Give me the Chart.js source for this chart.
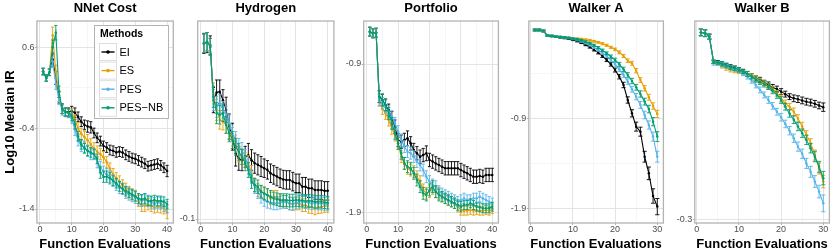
<!DOCTYPE html>
<html><head><meta charset="utf-8">
<script src="https://cdn.jsdelivr.net/npm/chart.js@4.4.1/dist/chart.umd.min.js"></script>
<style>
html,body{margin:0;padding:0;background:#fff;}
body{width:831px;height:250px;overflow:hidden;position:relative;}
canvas{position:absolute;top:0;}
</style></head><body>
<canvas id="c1" width="176" height="250" style="left:0px"></canvas>
<canvas id="c2" width="160" height="250" style="left:176px"></canvas>
<canvas id="c3" width="165" height="250" style="left:336px"></canvas>
<canvas id="c4" width="165" height="250" style="left:501px"></canvas>
<canvas id="c5" width="165" height="250" style="left:666px"></canvas>
<script>
// ---------- data ----------
const methods = ['EI', 'ES', 'PES', 'PES\u2212NB'];
const evals40 = [1,2,3,4,5,6,7,8,9,10,11,12,13,14,15,16,17,18,19,20,21,22,23,24,25,26,27,28,29,30,31,32,33,34,35,36,37,38,39,40];
const evals30 = [1,2,3,4,5,6,7,8,9,10,11,12,13,14,15,16,17,18,19,20,21,22,23,24,25,26,27,28,29,30];

// NNet Cost
const nnetEI   = [0.30,0.22,0.29,0.45,0.22,-0.02,-0.16,-0.20,-0.20,-0.19,-0.21,-0.26,-0.32,-0.36,-0.38,-0.39,-0.46,-0.52,-0.56,-0.62,-0.64,-0.67,-0.68,-0.70,-0.69,-0.70,-0.73,-0.75,-0.77,-0.78,-0.80,-0.82,-0.84,-0.87,-0.86,-0.85,-0.84,-0.86,-0.89,-0.93];
const nnetES   = [0.30,0.22,0.29,0.75,0.30,0.00,-0.16,-0.20,-0.21,-0.22,-0.30,-0.40,-0.47,-0.51,-0.55,-0.60,-0.65,-0.69,-0.72,-0.76,-0.82,-0.90,-0.97,-1.02,-1.06,-1.11,-1.15,-1.19,-1.22,-1.24,-1.30,-1.36,-1.36,-1.34,-1.36,-1.38,-1.37,-1.38,-1.39,-1.44];
const nnetPES  = [0.30,0.22,0.29,0.42,0.15,-0.05,-0.18,-0.21,-0.22,-0.28,-0.42,-0.55,-0.62,-0.63,-0.68,-0.72,-0.72,-0.82,-0.88,-0.94,-0.97,-1.00,-1.05,-1.10,-1.14,-1.15,-1.20,-1.22,-1.24,-1.26,-1.28,-1.30,-1.28,-1.30,-1.32,-1.33,-1.32,-1.33,-1.36,-1.38];
const nnetPESNB= [0.30,0.22,0.29,0.60,0.78,0.05,-0.16,-0.20,-0.21,-0.25,-0.35,-0.50,-0.60,-0.65,-0.68,-0.70,-0.72,-0.78,-0.95,-1.00,-1.00,-1.02,-1.05,-1.08,-1.12,-1.15,-1.18,-1.20,-1.22,-1.24,-1.27,-1.28,-1.27,-1.30,-1.30,-1.29,-1.30,-1.30,-1.31,-1.34];
const nnetEIerr   = [0.04,0.04,0.04,0.08,0.08,0.07,0.06,0.05,0.05,0.06,0.06,0.06,0.06,0.06,0.07,0.07,0.06,0.06,0.06,0.06,0.06,0.06,0.06,0.06,0.06,0.06,0.06,0.06,0.06,0.06,0.06,0.06,0.06,0.06,0.06,0.06,0.06,0.06,0.06,0.07];
const nnetESerr   = [0.04,0.04,0.04,0.10,0.08,0.07,0.06,0.05,0.05,0.06,0.07,0.07,0.07,0.07,0.07,0.07,0.07,0.07,0.07,0.07,0.07,0.07,0.07,0.07,0.07,0.07,0.07,0.07,0.07,0.07,0.07,0.07,0.07,0.07,0.07,0.07,0.07,0.07,0.07,0.08];
const nnetPESerr  = [0.04,0.04,0.04,0.07,0.07,0.06,0.06,0.05,0.05,0.06,0.07,0.07,0.07,0.07,0.07,0.07,0.07,0.07,0.07,0.07,0.07,0.07,0.07,0.07,0.07,0.07,0.07,0.07,0.07,0.07,0.07,0.07,0.07,0.07,0.07,0.07,0.07,0.07,0.07,0.07];
const nnetPESNBerr= [0.04,0.04,0.04,0.09,0.09,0.07,0.06,0.05,0.05,0.06,0.06,0.06,0.06,0.06,0.06,0.06,0.06,0.06,0.07,0.07,0.07,0.07,0.06,0.06,0.06,0.06,0.06,0.06,0.06,0.06,0.06,0.06,0.06,0.06,0.06,0.06,0.06,0.06,0.06,0.06];

// Hydrogen
const h2EI   = [0.318,0.320,0.314,0.183,0.201,0.203,0.183,0.160,0.120,0.096,0.056,0.044,0.040,0.048,0.052,0.040,0.033,0.029,0.025,0.021,0.017,0.009,0.005,0.001,-0.003,-0.006,-0.007,-0.007,-0.011,-0.015,-0.015,-0.023,-0.023,-0.027,-0.027,-0.031,-0.031,-0.031,-0.033,-0.033];
const h2ES   = [0.318,0.322,0.310,0.199,0.160,0.136,0.132,0.124,0.108,0.096,0.080,0.056,0.048,0.040,0.033,0.009,-0.019,-0.031,-0.035,-0.039,-0.043,-0.051,-0.047,-0.047,-0.055,-0.059,-0.059,-0.063,-0.064,-0.063,-0.063,-0.067,-0.067,-0.071,-0.072,-0.075,-0.072,-0.071,-0.069,-0.069];
const h2PES  = [0.318,0.322,0.310,0.183,0.167,0.175,0.160,0.148,0.128,0.104,0.088,0.072,0.064,0.048,0.025,0.001,-0.023,-0.035,-0.047,-0.055,-0.059,-0.061,-0.063,-0.063,-0.061,-0.059,-0.060,-0.063,-0.064,-0.061,-0.059,-0.059,-0.060,-0.061,-0.063,-0.061,-0.063,-0.063,-0.064,-0.064];
const h2PESNB= [0.318,0.322,0.310,0.191,0.152,0.148,0.152,0.124,0.104,0.088,0.072,0.060,0.048,0.033,0.017,-0.011,-0.019,-0.023,-0.035,-0.039,-0.043,-0.047,-0.051,-0.053,-0.055,-0.055,-0.055,-0.056,-0.056,-0.055,-0.055,-0.056,-0.057,-0.057,-0.057,-0.059,-0.059,-0.059,-0.060,-0.061];
const h2EIerr   = [0.024,0.024,0.022,0.030,0.030,0.028,0.025,0.030,0.030,0.032,0.030,0.028,0.025,0.025,0.028,0.025,0.024,0.024,0.024,0.022,0.022,0.022,0.022,0.022,0.022,0.022,0.022,0.022,0.022,0.022,0.022,0.022,0.022,0.022,0.022,0.022,0.022,0.022,0.022,0.022];
const h2ESerr   = [0.022,0.022,0.020,0.025,0.025,0.022,0.020,0.020,0.020,0.022,0.020,0.020,0.018,0.018,0.018,0.018,0.016,0.016,0.015,0.015,0.015,0.015,0.015,0.015,0.015,0.015,0.015,0.015,0.015,0.015,0.015,0.015,0.015,0.015,0.015,0.015,0.015,0.015,0.015,0.015];
const h2PESerr  = [0.022,0.022,0.020,0.025,0.025,0.022,0.020,0.020,0.020,0.020,0.020,0.020,0.018,0.018,0.018,0.016,0.016,0.016,0.015,0.015,0.015,0.015,0.015,0.015,0.015,0.015,0.015,0.015,0.015,0.015,0.015,0.015,0.015,0.015,0.015,0.015,0.015,0.015,0.015,0.015];
const h2PESNBerr= [0.022,0.022,0.020,0.025,0.025,0.022,0.020,0.020,0.020,0.020,0.020,0.020,0.018,0.018,0.018,0.016,0.016,0.016,0.015,0.015,0.015,0.015,0.015,0.015,0.015,0.015,0.015,0.015,0.015,0.015,0.015,0.015,0.015,0.015,0.015,0.015,0.015,0.015,0.015,0.015];

// Portfolio
const pfEI   = [-0.682,-0.693,-0.689,-1.120,-1.143,-1.176,-1.210,-1.266,-1.322,-1.412,-1.424,-1.412,-1.401,-1.435,-1.480,-1.502,-1.525,-1.514,-1.502,-1.547,-1.558,-1.570,-1.581,-1.592,-1.603,-1.603,-1.603,-1.603,-1.603,-1.615,-1.626,-1.637,-1.648,-1.660,-1.660,-1.655,-1.660,-1.648,-1.648,-1.648];
const pfES   = [-0.682,-0.693,-0.689,-1.143,-1.199,-1.233,-1.278,-1.334,-1.379,-1.435,-1.525,-1.570,-1.603,-1.615,-1.626,-1.660,-1.693,-1.749,-1.772,-1.761,-1.738,-1.761,-1.772,-1.794,-1.806,-1.817,-1.828,-1.839,-1.862,-1.884,-1.889,-1.889,-1.884,-1.889,-1.884,-1.889,-1.889,-1.884,-1.889,-1.880];
const pfPES  = [-0.682,-0.693,-0.689,-1.143,-1.165,-1.188,-1.221,-1.255,-1.300,-1.356,-1.412,-1.457,-1.491,-1.502,-1.525,-1.558,-1.581,-1.615,-1.660,-1.693,-1.716,-1.727,-1.761,-1.772,-1.783,-1.794,-1.806,-1.817,-1.828,-1.817,-1.806,-1.817,-1.817,-1.806,-1.806,-1.794,-1.806,-1.817,-1.828,-1.839];
const pfPESNB= [-0.682,-0.693,-0.689,-1.120,-1.143,-1.176,-1.233,-1.300,-1.367,-1.435,-1.502,-1.570,-1.592,-1.603,-1.637,-1.682,-1.727,-1.772,-1.783,-1.749,-1.727,-1.761,-1.783,-1.794,-1.806,-1.817,-1.828,-1.839,-1.851,-1.862,-1.851,-1.851,-1.839,-1.851,-1.862,-1.866,-1.873,-1.873,-1.873,-1.862];
const pfEIerr   = [0.030,0.030,0.030,0.040,0.040,0.040,0.040,0.045,0.045,0.045,0.045,0.045,0.050,0.045,0.045,0.045,0.045,0.045,0.050,0.045,0.045,0.045,0.045,0.045,0.045,0.045,0.045,0.045,0.045,0.045,0.045,0.045,0.045,0.045,0.045,0.045,0.045,0.045,0.045,0.045];
const pfESerr   = [0.030,0.030,0.030,0.040,0.040,0.040,0.040,0.040,0.040,0.040,0.040,0.040,0.040,0.040,0.040,0.040,0.040,0.040,0.040,0.040,0.040,0.040,0.040,0.035,0.035,0.035,0.035,0.035,0.035,0.035,0.030,0.030,0.030,0.030,0.030,0.030,0.030,0.030,0.030,0.030];
const pfPESerr  = [0.030,0.030,0.030,0.040,0.040,0.040,0.040,0.040,0.040,0.040,0.040,0.040,0.040,0.040,0.040,0.040,0.040,0.040,0.040,0.040,0.040,0.040,0.040,0.035,0.035,0.035,0.035,0.035,0.035,0.035,0.035,0.035,0.035,0.035,0.035,0.035,0.035,0.035,0.035,0.035];
const pfPESNBerr= [0.030,0.030,0.030,0.040,0.040,0.040,0.040,0.040,0.040,0.040,0.040,0.040,0.040,0.040,0.040,0.040,0.040,0.040,0.040,0.040,0.040,0.040,0.040,0.035,0.035,0.035,0.035,0.035,0.035,0.035,0.030,0.030,0.030,0.030,0.030,0.030,0.030,0.030,0.030,0.030];

// Walker A
const waEI   = [0.089,0.089,0.078,0.026,0.022,0.015,0.007,0.000,-0.007,-0.019,-0.033,-0.052,-0.074,-0.100,-0.130,-0.163,-0.200,-0.244,-0.293,-0.356,-0.430,-0.522,-0.689,-0.837,-0.985,-1.041,-1.319,-1.504,-1.756,-1.874];
const waES   = [0.089,0.089,0.078,0.026,0.022,0.015,0.011,0.007,0.004,-0.004,-0.007,-0.011,-0.019,-0.026,-0.037,-0.048,-0.063,-0.081,-0.104,-0.126,-0.159,-0.200,-0.252,-0.281,-0.363,-0.467,-0.559,-0.659,-0.756,-0.844];
const waPES  = [0.089,0.089,0.078,0.026,0.022,0.015,0.011,0.007,0.000,-0.011,-0.022,-0.037,-0.056,-0.078,-0.104,-0.133,-0.167,-0.200,-0.244,-0.293,-0.348,-0.411,-0.485,-0.570,-0.652,-0.744,-0.856,-0.967,-1.096,-1.319];
const waPESNB= [0.089,0.089,0.078,0.026,0.022,0.015,0.011,0.007,0.000,-0.007,-0.015,-0.026,-0.041,-0.059,-0.081,-0.107,-0.137,-0.170,-0.207,-0.244,-0.293,-0.348,-0.411,-0.478,-0.548,-0.622,-0.707,-0.790,-0.930,-1.096];
const waEIerr   = [0.010,0.010,0.010,0.008,0.008,0.008,0.008,0.008,0.008,0.010,0.010,0.010,0.012,0.012,0.014,0.014,0.016,0.018,0.020,0.022,0.025,0.030,0.035,0.040,0.050,0.050,0.060,0.070,0.080,0.090];
const waESerr   = [0.010,0.010,0.010,0.008,0.008,0.008,0.008,0.008,0.008,0.008,0.008,0.008,0.010,0.010,0.010,0.010,0.012,0.012,0.012,0.014,0.016,0.018,0.020,0.022,0.024,0.026,0.030,0.032,0.036,0.040];
const waPESerr  = [0.010,0.010,0.010,0.008,0.008,0.008,0.008,0.008,0.008,0.008,0.010,0.010,0.010,0.012,0.012,0.014,0.016,0.018,0.020,0.022,0.024,0.026,0.030,0.032,0.035,0.038,0.042,0.046,0.050,0.060];
const waPESNBerr= [0.010,0.010,0.010,0.008,0.008,0.008,0.008,0.008,0.008,0.008,0.010,0.010,0.010,0.010,0.012,0.012,0.014,0.016,0.018,0.020,0.022,0.024,0.026,0.030,0.032,0.035,0.038,0.042,0.046,0.055];

// Walker B
const wbEI   = [0.145,0.143,0.135,0.075,0.074,0.071,0.067,0.063,0.060,0.056,0.052,0.046,0.041,0.036,0.032,0.025,0.020,0.014,0.010,0.004,-0.002,-0.008,-0.012,-0.014,-0.017,-0.020,-0.022,-0.025,-0.029,-0.033];
const wbES   = [0.145,0.143,0.135,0.075,0.071,0.065,0.060,0.056,0.054,0.052,0.049,0.046,0.041,0.036,0.030,0.024,0.017,0.010,0.000,-0.012,-0.024,-0.032,-0.044,-0.060,-0.079,-0.099,-0.119,-0.147,-0.179,-0.210];
const wbPES  = [0.145,0.143,0.135,0.071,0.071,0.068,0.065,0.061,0.058,0.054,0.048,0.040,0.030,0.020,0.008,-0.004,-0.016,-0.030,-0.044,-0.057,-0.073,-0.089,-0.107,-0.127,-0.144,-0.167,-0.187,-0.210,-0.234,-0.262];
const wbPESNB= [0.145,0.143,0.135,0.075,0.073,0.070,0.067,0.062,0.059,0.056,0.052,0.046,0.040,0.033,0.027,0.022,0.016,0.006,-0.004,-0.016,-0.032,-0.048,-0.063,-0.079,-0.095,-0.111,-0.131,-0.151,-0.175,-0.202];
const wbEIerr   = [0.008,0.008,0.006,0.004,0.004,0.004,0.004,0.005,0.005,0.005,0.005,0.006,0.006,0.006,0.006,0.006,0.007,0.007,0.007,0.007,0.007,0.007,0.008,0.008,0.008,0.008,0.008,0.008,0.008,0.010];
const wbESerr   = [0.008,0.008,0.006,0.004,0.004,0.005,0.005,0.005,0.005,0.005,0.005,0.006,0.006,0.006,0.006,0.006,0.007,0.007,0.007,0.008,0.008,0.008,0.009,0.009,0.010,0.010,0.011,0.012,0.013,0.015];
const wbPESerr  = [0.008,0.008,0.006,0.004,0.004,0.005,0.005,0.005,0.005,0.005,0.006,0.006,0.006,0.007,0.007,0.007,0.008,0.008,0.008,0.009,0.009,0.010,0.010,0.011,0.011,0.012,0.013,0.014,0.015,0.020];
const wbPESNBerr= [0.008,0.008,0.006,0.004,0.004,0.005,0.005,0.005,0.005,0.005,0.005,0.006,0.006,0.006,0.006,0.007,0.007,0.007,0.008,0.008,0.008,0.009,0.009,0.010,0.010,0.011,0.011,0.012,0.013,0.016];

// tick values
const xMajor40 = [0,10,20,30,40], xMinor40 = [5,15,25,35];
const xMajor30 = [0,10,20,30],    xMinor30 = [5,15,25];
const nnetYMajor = [0.6,-0.4,-1.4], nnetYMinor = [0.1,-0.9];
const h2YMajor = [-0.1], h2YMinor = [];
const pfYMajor = [-0.9,-1.9], pfYMinor = [-1.4];
const waYMajor = [-0.9,-1.9], waYMinor = [-0.4,-1.4];
const wbYMajor = [-0.3], wbYMinor = [];

// ---------- styling ----------
const FONT = "'Liberation Sans', Arial, Helvetica, sans-serif";
const COLORS = ['#000000', '#E69F00', '#56B4E9', '#009E73'];
const GRID_MAJOR = '#e4e4e4', GRID_MINOR = '#f2f2f2', FRAME = '#b3b3b3';

const errorBarPlugin = {
  id: 'errorBars',
  afterDatasetDraw(chart, args) {
    const ds = chart.data.datasets[args.index];
    if (!ds.errors) return;
    const xs = chart.scales.x, ys = chart.scales.y, ctx = chart.ctx;
    const cap = chart.options.plugins.errorBars.cap;
    ctx.save();
    ctx.strokeStyle = ds.borderColor;
    ctx.lineWidth = 0.9;
    ctx.beginPath();
    ds.data.forEach((p, i) => {
      const e = ds.errors[i];
      const x = xs.getPixelForValue(p.x);
      const y1 = ys.getPixelForValue(p.y - e), y2 = ys.getPixelForValue(p.y + e);
      ctx.moveTo(x, y1); ctx.lineTo(x, y2);
      ctx.moveTo(x - cap, y1); ctx.lineTo(x + cap, y1);
      ctx.moveTo(x - cap, y2); ctx.lineTo(x + cap, y2);
    });
    ctx.stroke();
    ctx.restore();
  }
};

const framePlugin = {
  id: 'frame',
  afterDraw(chart) {
    const a = chart.chartArea, ctx = chart.ctx;
    ctx.save();
    ctx.strokeStyle = FRAME; ctx.lineWidth = 1.3;
    ctx.strokeRect(a.left, a.top, a.right - a.left, a.bottom - a.top);
    ctx.restore();
  }
};

const legendPlugin = {
  id: 'methodsLegend',
  afterDraw(chart, args, o) {
    if (!o || !o.show) return;
    const ctx = chart.ctx;
    ctx.save();
    ctx.fillStyle = '#ffffff';
    ctx.fillRect(o.x, o.y, o.w, o.h);
    ctx.strokeStyle = FRAME; ctx.lineWidth = 1;
    ctx.strokeRect(o.x + 0.5, o.y + 0.5, o.w, o.h);
    ctx.fillStyle = '#000';
    ctx.textBaseline = 'middle'; ctx.textAlign = 'left';
    ctx.font = 'bold 10.5px ' + FONT;
    ctx.fillText('Methods', o.x + 6, o.y + 9);
    ctx.font = '11px ' + FONT;
    methods.forEach((m, k) => {
      const cy = o.y + o.firstRow + k * o.rowH;
      ctx.strokeStyle = '#dedede'; ctx.lineWidth = 1;
      ctx.strokeRect(o.keyX + 0.5, cy - o.key / 2, o.key, o.key);
      ctx.strokeStyle = COLORS[k]; ctx.lineWidth = 1.4;
      ctx.beginPath(); ctx.moveTo(o.keyX + 2.5, cy); ctx.lineTo(o.keyX + o.key - 1.5, cy); ctx.stroke();
      ctx.fillStyle = COLORS[k];
      ctx.beginPath(); ctx.arc(o.keyX + 0.5 + o.key / 2, cy, 1.8, 0, Math.PI * 2); ctx.fill();
      ctx.fillStyle = '#000';
      ctx.fillText(m, o.keyX + o.key + 3.5, cy + 0.5);
    });
    ctx.restore();
  }
};

function makeChart(p) {
  const datasets = methods.map((m, k) => ({
    label: m,
    data: p.evals.map((e, i) => ({ x: e, y: p.vals[k][i] })),
    errors: p.errs[k],
    borderColor: COLORS[k], backgroundColor: COLORS[k],
    borderWidth: 1.1, pointRadius: 1.25, pointBorderWidth: 0, pointHoverRadius: 0,
    tension: 0, order: 3 - k
  }));
  const xAll = p.xMajor.concat(p.xMinor), yAll = p.yMajor.concat(p.yMinor);
  const gridOpts = (majors) => ({
    color: c => (c.tick && majors.includes(c.tick.value)) ? GRID_MAJOR : GRID_MINOR,
    lineWidth: c => (c.tick && majors.includes(c.tick.value)) ? 1 : 0.7,
    tickColor: c => (c.tick && majors.includes(c.tick.value)) ? FRAME : 'rgba(0,0,0,0)',
    tickLength: 2, drawTicks: true, drawOnChartArea: true
  });
  return new Chart(document.getElementById(p.id), {
    type: 'line',
    data: { datasets },
    options: {
      responsive: false, animation: false, events: [],
      layout: { padding: { left: 0, right: p.padR, top: 0, bottom: 0 }, autoPadding: false },
      plugins: {
        legend: { display: false }, tooltip: { enabled: false },
        title: { display: true, text: p.title, fullSize: false, color: '#000',
                 font: { family: FONT, size: 13, weight: 'bold', lineHeight: 1.2 },
                 padding: { top: 0.8, bottom: 4.6 } },
        errorBars: { cap: p.cap },
        methodsLegend: p.legend || { show: false }
      },
      scales: {
        x: {
          type: 'linear', min: p.xmin, max: p.xmax,
          afterBuildTicks: s => { s.ticks = xAll.map(v => ({ value: v })); },
          afterFit: s => { s.height = 27; },
          ticks: { autoSkip: false, maxRotation: 0, padding: 0, color: '#4d4d4d',
                   font: { family: FONT, size: 9, lineHeight: 1 },
                   callback: v => p.xMajor.includes(v) ? String(v) : '' },
          grid: gridOpts(p.xMajor),
          border: { display: false },
          title: { display: true, text: 'Function Evaluations', color: '#000',
                   font: { family: FONT, size: 13, weight: 'bold', lineHeight: 0.8 },
                   padding: { top: 0, bottom: 0 } }
        },
        y: {
          type: 'linear', min: p.ymin, max: p.ymax,
          afterBuildTicks: s => { s.ticks = yAll.map(v => ({ value: v })); },
          afterFit: s => { s.width = p.yW; },
          ticks: { autoSkip: false, padding: 0.5, color: '#4d4d4d',
                   font: { family: FONT, size: 9, lineHeight: 1 },
                   callback: v => p.yMajor.includes(v) ? String(v) : '' },
          grid: gridOpts(p.yMajor),
          border: { display: false },
          title: { display: !!p.yTitle, text: p.yTitle || '', color: '#000',
                   font: { family: FONT, size: 13, weight: 'bold', lineHeight: 1.2 },
                   padding: { top: 3, bottom: 0 } }
        }
      }
    },
    plugins: [errorBarPlugin, framePlugin, legendPlugin]
  });
}

makeChart({ id: 'c1', title: 'NNet Cost', evals: evals40,
  vals: [nnetEI, nnetES, nnetPES, nnetPESNB], errs: [nnetEIerr, nnetESerr, nnetPESerr, nnetPESNBerr],
  xmin: -0.95, xmax: 41.95, ymin: -1.573, ymax: 0.925,
  xMajor: xMajor40, xMinor: xMinor40, yMajor: nnetYMajor, yMinor: nnetYMinor,
  yW: 36.9, padR: 2.7, cap: 1.6, yTitle: 'Log10 Median IR',
  legend: { show: true, x: 94, y: 25, w: 74, h: 93, firstRow: 27, rowH: 18.6, keyX: 99, key: 17 } });

makeChart({ id: 'c2', title: 'Hydrogen', evals: evals40,
  vals: [h2EI, h2ES, h2PES, h2PESNB], errs: [h2EIerr, h2ESerr, h2PESerr, h2PESNBerr],
  xmin: -0.95, xmax: 41.95, ymin: -0.1095, ymax: 0.3714,
  xMajor: xMajor40, xMinor: xMinor40, yMajor: h2YMajor, yMinor: h2YMinor,
  yW: 21.7, padR: 2.1, cap: 1.6 });

makeChart({ id: 'c3', title: 'Portfolio', evals: evals40,
  vals: [pfEI, pfES, pfPES, pfPESNB], errs: [pfEIerr, pfESerr, pfPESerr, pfPESNBerr],
  xmin: -0.95, xmax: 41.95, ymin: -1.972, ymax: -0.610,
  xMajor: xMajor40, xMinor: xMinor40, yMajor: pfYMajor, yMinor: pfYMinor,
  yW: 27.7, padR: 2.6, cap: 1.6 });

makeChart({ id: 'c4', title: 'Walker A', evals: evals30,
  vals: [waEI, waES, waPES, waPESNB], errs: [waEIerr, waESerr, waPESerr, waPESNBerr],
  xmin: -0.45, xmax: 31.45, ymin: -2.056, ymax: 0.189,
  xMajor: xMajor30, xMinor: xMinor30, yMajor: waYMajor, yMinor: waYMinor,
  yW: 27.8, padR: 2.6, cap: 2.1 });

makeChart({ id: 'c5', title: 'Walker B', evals: evals30,
  vals: [wbEI, wbES, wbPES, wbPESNB], errs: [wbEIerr, wbESerr, wbPESerr, wbPESNBerr],
  xmin: -0.45, xmax: 31.45, ymin: -0.3088, ymax: 0.1721,
  xMajor: xMajor30, xMinor: xMinor30, yMajor: wbYMajor, yMinor: wbYMinor,
  yW: 28.8, padR: 1.6, cap: 2.1 });
</script>
</body></html>
